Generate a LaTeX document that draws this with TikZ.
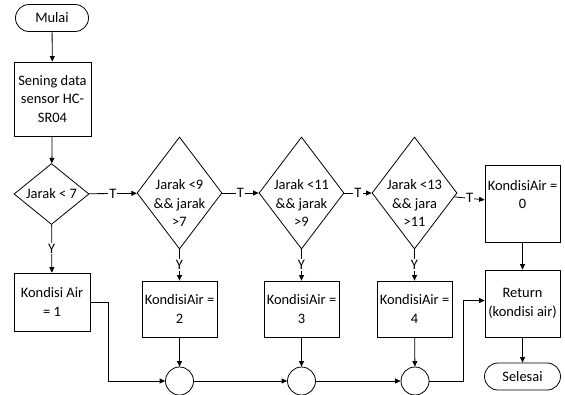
\documentclass[tikz,border=0pt]{standalone}
\usepackage{fontspec}
\setmainfont{Carlito}
\usetikzlibrary{shapes.geometric,shapes.misc,arrows.meta}
\tikzset{
  base/.style={draw=black, line width=0.8bp, align=center, inner sep=1bp,
    font=\fontsize{14.5}{19}\selectfont},
  terminal/.style={base, rounded rectangle, minimum width=75bp, minimum height=27bp},
  procbox/.style={base, rectangle, minimum width=#1, minimum height=56bp},
  decision/.style={base, diamond, inner sep=0pt},
  junction/.style={draw=black, line width=0.8bp, circle, minimum size=28bp, inner sep=0pt},
  flow/.style={line width=0.8bp, -{Triangle[length=5.5bp,width=5bp]}},
  tag/.style={fill=white, inner sep=1bp, font=\fontsize{14.5}{16}\selectfont},
}
\begin{document}
\begin{tikzpicture}[x=1bp, y=-1bp]
\useasboundingbox (0,0) rectangle (565,394);

% start and input
\node[terminal] (mulai) at (52,18) {Mulai};
\node[procbox=77bp, minimum height=74bp] (sensor) at (52.5,99) {Sening data\\sensor HC-\\SR04};

% decision chain
\node[decision, minimum width=75bp, minimum height=56bp] (d1) at (51.5,194) {Jarak < 7};
\node[decision, minimum width=85bp, minimum height=112bp,
  label={[name=d2t, base, draw=none, yshift=-10bp]center:Jarak <9\\\&\& jarak\\>7}] (d2) at (179.5,193) {};
\node[decision, minimum width=85bp, minimum height=112bp,
  label={[name=d3t, base, draw=none, yshift=-10bp]center:Jarak <11\\\&\& jarak\\>9}] (d3) at (301.5,193) {};
\node[decision, minimum width=85bp, minimum height=112bp,
  label={[name=d4t, base, draw=none, yshift=-10bp]center:Jarak <13\\\&\& jara\\>11}] (d4) at (414.5,193) {};
\node[procbox=75bp, minimum height=77bp,
  label={[name=k0t, base, draw=none, yshift=9bp]center:KondisiAir =\\0}] (k0) at (522.5,203.5) {};

% assignments
\node[procbox=76bp, minimum height=58bp] (k1) at (52,302) {Kondisi Air\\= 1};
\node[procbox=75bp] (k2) at (179.5,309) {KondisiAir =\\2};
\node[procbox=75bp] (k3) at (301.5,309) {KondisiAir =\\3};
\node[procbox=75bp] (k4) at (414.5,309) {KondisiAir =\\4};
\node[procbox=75bp, minimum height=67bp] (ret) at (522.5,303.5) {Return\\(kondisi air)};
\node[terminal, minimum width=78bp] (selesai) at (522.5,376.5) {Selesai};

% merge points
\node[junction] (c1) at (179.5,381) {};
\node[junction] (c2) at (301.5,381) {};
\node[junction] (c3) at (415,381) {};

% connectors
\draw[flow] (mulai) -- (sensor);
\draw[flow] (sensor) -- (d1);
\draw[flow] (d1) -- node[tag]{T} (d2);
\draw[flow] (d2) -- node[tag]{T} (d3);
\draw[flow] (d3) -- node[tag]{T} (d4);
\draw[flow] (d4) -- node[tag]{T} (k0);
\draw[flow] (d1) -- node[tag]{Y} (k1);
\draw[flow] (d2) -- node[tag]{Y} (k2);
\draw[flow] (d3) -- node[tag]{Y} (k3);
\draw[flow] (d4) -- node[tag]{Y} (k4);
\draw[flow] (k0) -- (ret);
\draw[flow] (ret) -- (selesai);
\draw[flow] (k2) -- (c1);
\draw[flow] (k3) -- (c2);
\draw[flow] (k4) -- (c3);
\coordinate (k1turn) at (108,302);
\draw[flow] (k1.east) -- (k1turn) |- (c1.west);
\draw[flow] (c1) -- (c2);
\draw[flow] (c2) -- (c3);
\coordinate (c3turn) at (463,381);
\draw[flow] (c3.east) -- (c3turn) |- ([yshift=3bp]ret.west);
\end{tikzpicture}
\end{document}
